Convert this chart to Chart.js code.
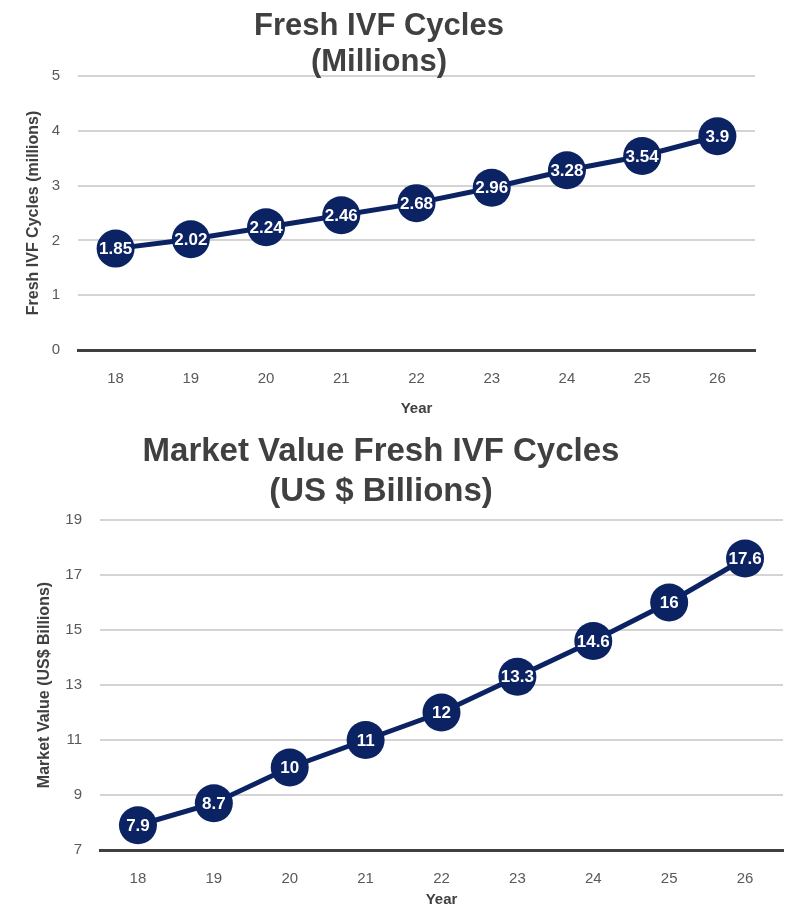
<!DOCTYPE html>
<html>
<head>
<meta charset="utf-8">
<script src="https://cdn.jsdelivr.net/npm/chart.js@4/dist/chart.umd.min.js"></script>
<style>
  html, body { margin: 0; padding: 0; background: #fff; }
  .box { position: absolute; left: 0; width: 787px; }
  #box1 { top: 0; height: 425px; }
  #box2 { top: 425px; height: 484px; }
  .title {
    position: absolute;
    left: 0;
    text-align: center;
    color: #404040;
    font-family: 'Liberation Sans', Arial, sans-serif;
    font-weight: bold;
    white-space: nowrap;
  }
  #title1 { top: 7px; width: 758px; font-size: 31px; line-height: 36px; }
  #title2 { top: 430px; width: 762px; font-size: 33px; line-height: 40px; }
</style>
</head>
<body>
<div class="box" id="box1"><canvas id="cycles"></canvas></div>
<div class="box" id="box2"><canvas id="market"></canvas></div>
<div class="title" id="title1"></div>
<div class="title" id="title2"></div>
<script>
// chart data
const years = ['18', '19', '20', '21', '22', '23', '24', '25', '26'];
const cycleValues = [1.85, 2.02, 2.24, 2.46, 2.68, 2.96, 3.28, 3.54, 3.9];
const marketValues = [7.9, 8.7, 10, 11, 12, 13.3, 14.6, 16, 17.6];
const cycleTitle = ['Fresh IVF Cycles', '(Millions)'];
const marketTitle = ['Market Value Fresh IVF Cycles', '(US $ Billions)'];

const NAVY = '#0b2263';
const DARK = '#404040';
const FONT = "'Liberation Sans', Arial, sans-serif";

// titles sit in html so they can be centred independent of the plot area
function setTitle(id, lines) {
    const el = document.getElementById(id);
    lines.forEach((line, i) => {
        if (i) el.appendChild(document.createElement('br'));
        el.appendChild(document.createTextNode(line));
    });
}
setTitle('title1', cycleTitle);
setTitle('title2', marketTitle);

// white value text drawn on top of each marker
const pointLabels = {
    id: 'pointLabels',
    afterDatasetsDraw(chart) {
        const ctx = chart.ctx;
        const meta = chart.getDatasetMeta(0);
        const data = chart.data.datasets[0].data;
        ctx.save();
        ctx.fillStyle = '#fff';
        ctx.font = "bold 17px 'Liberation Sans', Arial, sans-serif";
        ctx.textAlign = 'center';
        ctx.textBaseline = 'middle';
        meta.data.forEach((pt, i) => {
            ctx.fillText(String(data[i]), pt.x, pt.y + 1);
        });
        ctx.restore();
    }
};

function makeChart(id, cfg) {
    const ctx = document.getElementById(id).getContext('2d');
    return new Chart(ctx, {
        type: 'line',
        data: {
            labels: years,
            datasets: [{
                data: cfg.values,
                borderColor: NAVY,
                borderWidth: 5,
                backgroundColor: NAVY,
                pointRadius: 19,
                pointHoverRadius: 19,
                pointBorderWidth: 0,
                tension: 0,
                clip: false
            }]
        },
        options: {
            responsive: true,
            maintainAspectRatio: false,
            animation: false,
            layout: { padding: cfg.padding, autoPadding: false },
            plugins: {
                legend: { display: false },
                tooltip: { enabled: false }
            },
            scales: {
                x: {
                    offset: true,
                    grid: { display: false, drawTicks: false },
                    border: { color: DARK, width: 3 },
                    ticks: { color: '#595959', font: { family: FONT, size: 15 }, padding: cfg.xTickPad },
                    title: {
                        display: true,
                        text: 'Year',
                        color: DARK,
                        font: { family: FONT, size: 15, weight: 'bold' },
                        padding: { top: 4, bottom: cfg.yearLift }
                    },
                    afterFit: (scale) => {
                        scale.height = cfg.xHeight;
                        scale.paddingLeft = 0;
                        scale.paddingRight = 0;
                    }
                },
                y: {
                    min: cfg.min,
                    max: cfg.max,
                    ticks: { stepSize: cfg.step, color: '#595959', font: { family: FONT, size: 15 }, padding: 18 },
                    grid: { color: '#d4d4d4', lineWidth: 2, drawTicks: false },
                    border: { display: false },
                    title: {
                        display: true,
                        text: cfg.yTitle,
                        color: DARK,
                        font: { family: FONT, size: 16, weight: 'bold' },
                        padding: 0
                    },
                    afterFit: (scale) => { scale.width = cfg.yWidth; }
                }
            }
        },
        plugins: [pointLabels]
    });
}

makeChart('cycles', {
    values: cycleValues,
    padding: { left: 24, right: 32, top: 76, bottom: 0 },
    min: 0, max: 5, step: 1,
    yTitle: 'Fresh IVF Cycles (millions)',
    yWidth: 54,
    xHeight: 75,
    xTickPad: 20,
    yearLift: 7
});

makeChart('market', {
    values: marketValues,
    padding: { left: 35, right: 4, top: 95, bottom: 0 },
    min: 7, max: 19, step: 2,
    yTitle: 'Market Value (US$ Billions)',
    yWidth: 65,
    xHeight: 59,
    xTickPad: 20,
    yearLift: 0
});
</script>
</body>
</html>
